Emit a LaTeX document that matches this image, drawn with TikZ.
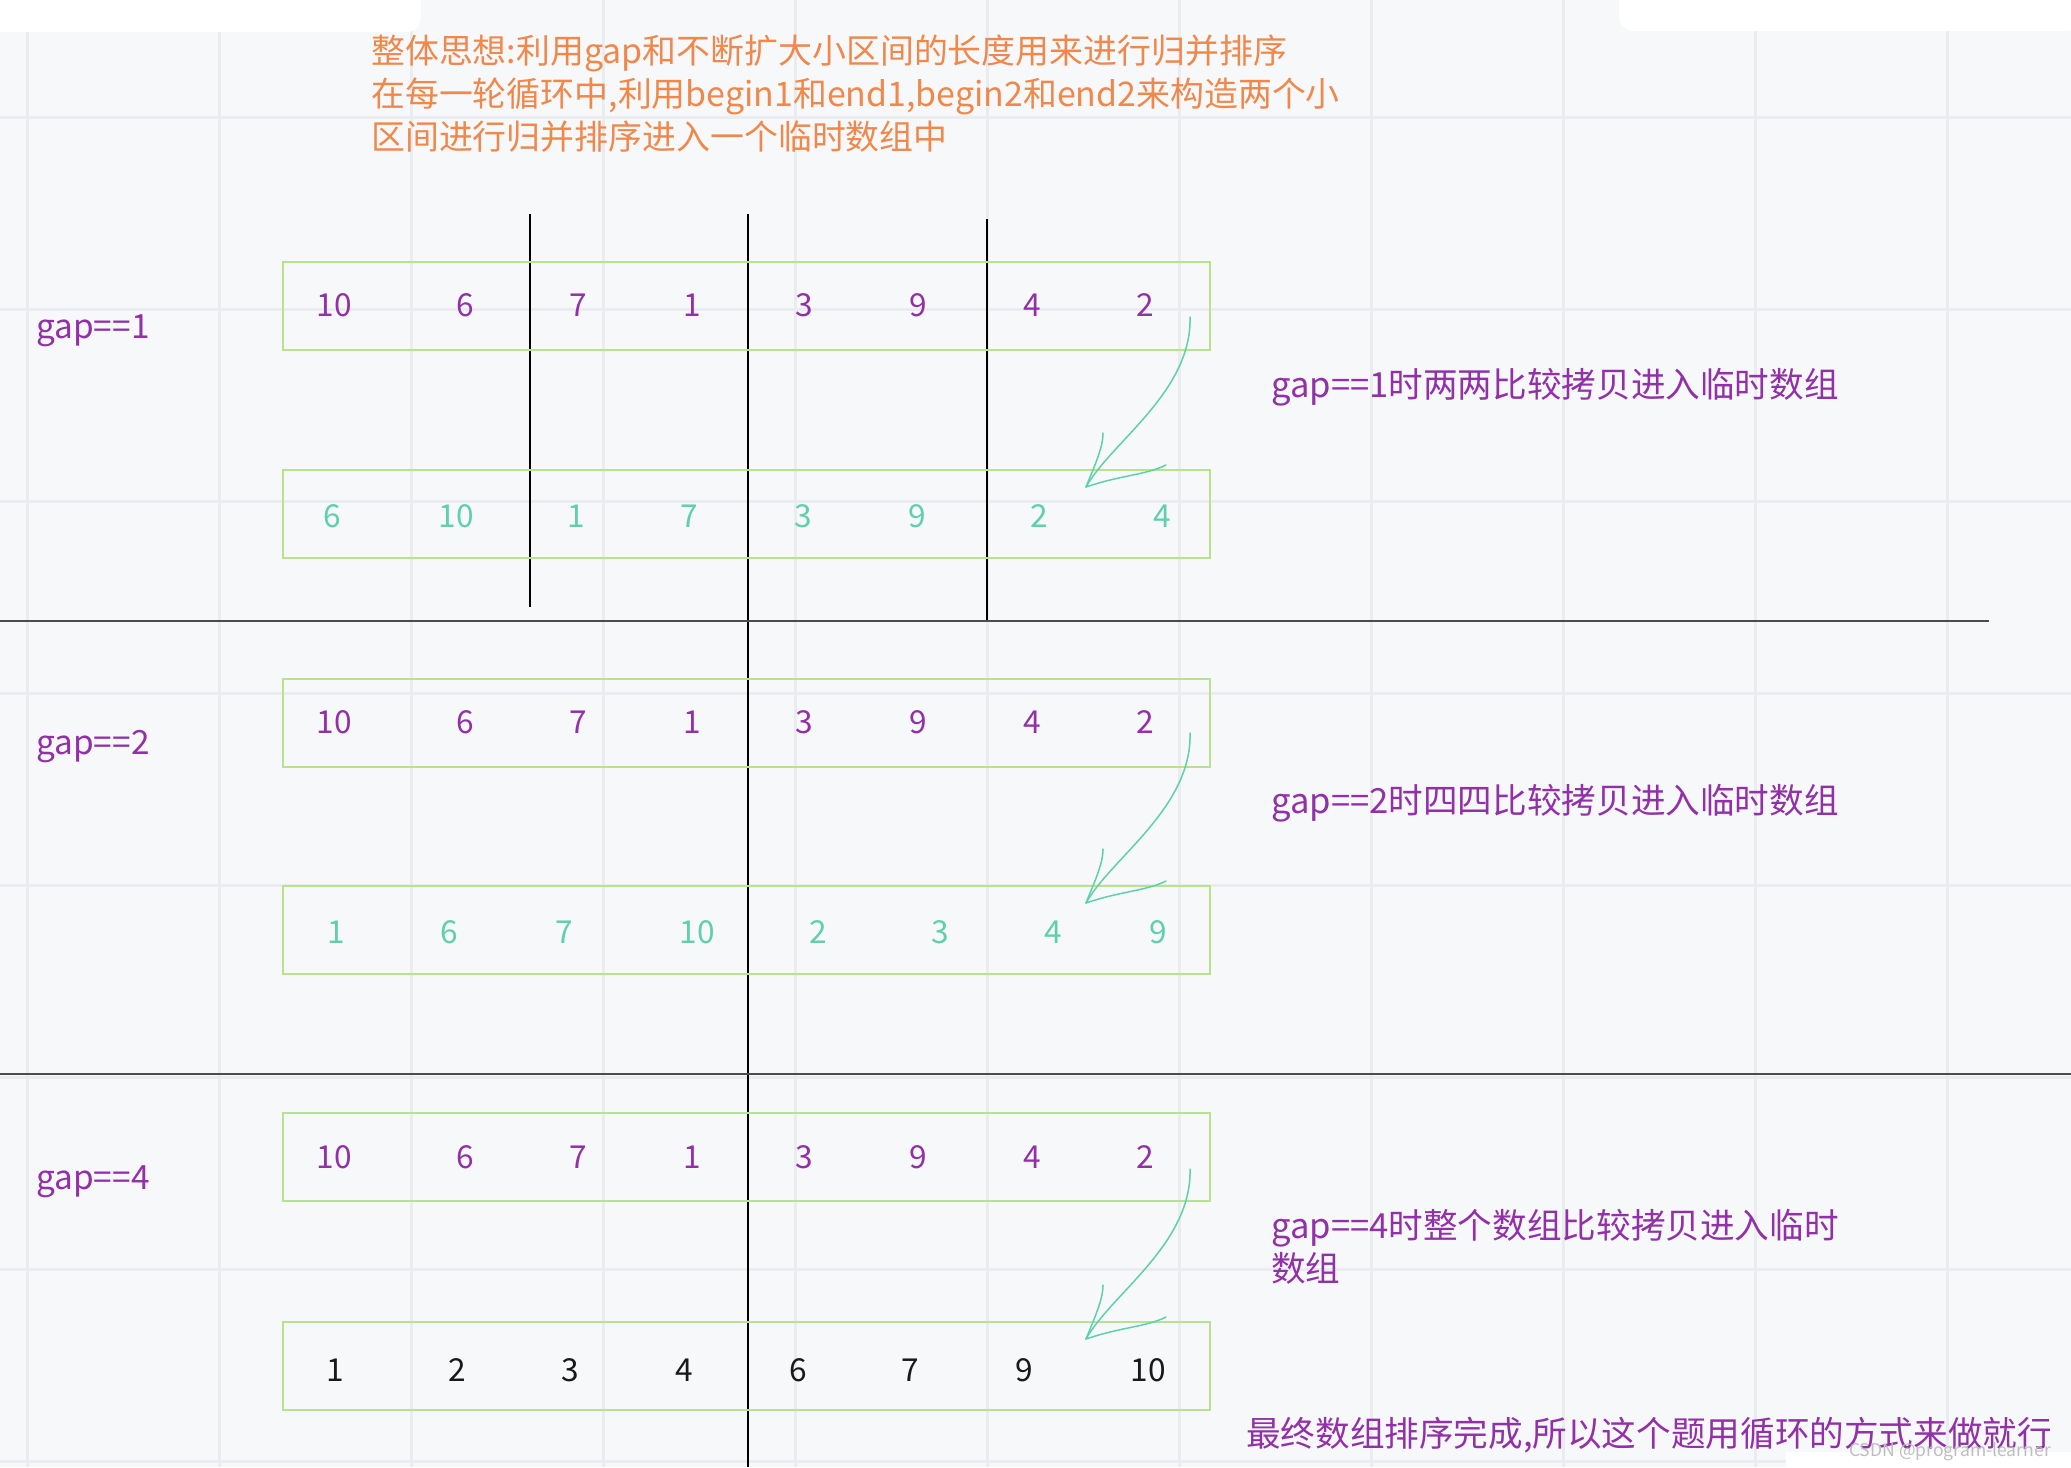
\documentclass[tikz,border=0pt]{standalone}
\usepackage{fontspec}
\newfontfamily\cjk{Noto Sans CJK SC}
\usepackage{tikz}
\definecolor{gapPurple}{RGB}{146,48,168}
\definecolor{gapTeal}{RGB}{96,208,170}
\definecolor{gapOrange}{RGB}{240,136,76}
\definecolor{boxGreen}{RGB}{184,226,144}
\definecolor{gridGray}{RGB}{234,236,239}
\definecolor{paper}{RGB}{247,248,250}
\tikzset{
	numbox/.style={draw=boxGreen, line width=0.04cm},
	num/.style={anchor=base, font=\cjk\fontsize{18}{20}\selectfont},
	note/.style={anchor=base west, font=\cjk\fontsize{19.7}{24}\selectfont},
	idea/.style={anchor=base west, text=gapOrange, font=\cjk\fontsize{19.3}{24}\selectfont},
	pen/.style={draw=gapTeal, line width=0.03cm, line cap=round},
}

\begin{document}
\begin{tikzpicture}[x=0.02cm, y=-0.02cm]
	\useasboundingbox (0,0) rectangle (2071,1467);
	% Draw background and grid
	\fill[paper] (0,0) rectangle (2071,1467);
	\foreach \gx in {27,219,...,1947} \draw[gridGray, line width=0.06cm] (\gx,0) -- (\gx,1467);
	\foreach \gy in {117,309,...,1461} \draw[gridGray, line width=0.06cm] (0,\gy) -- (2071,\gy);
	%White panels
	\fill[white, rounded corners=8] (-10,-10) rectangle (421,32);
	\fill[white, rounded corners=8] (1619,-10) rectangle (2081,31);
	\fill[white] (1786,1452) rectangle (2071,1467);

	% Idea text
	\node[idea] (idea1) at (365,63) {整体思想:利用gap和不断扩大小区间的长度用来进行归并排序};
	\node[idea] (idea2) at (365,106) {在每一轮循环中,利用begin1和end1,begin2和end2来构造两个小};
	\node[idea] (idea3) at (365,149) {区间进行归并排序进入一个临时数组中};

	% Split lines
	\draw[black, line width=0.03cm] (530,214) -- (530,607);
	\draw[black, line width=0.03cm] (748,214) -- (748,1467);
	\draw[black, line width=0.03cm] (987,219) -- (987,622);
	\draw[black!70, line width=0.05cm] (0,621) -- (1989,621);
	\draw[black!70, line width=0.05cm] (0,1074) -- (2071,1074);

	% Boxes
	\foreach \by in {262,470,679,886,1113,1322} \draw[numbox] (283,\by) rectangle +(927,88);

	% Numbers
	%Before merge
	\foreach \y/\r in {316/1,733/2,1168/3}
		\foreach \x/\n [count=\i] in {334/10,465/6,578/7,692/1,804/3,918/9,1032/4,1145/2}
			\node[num, text=gapPurple] (top\r-\i) at (\x,\y) {\n};
	%After merge
	\foreach \x/\n [count=\i] in {332/6,456/10,576/1,689/7,803/3,917/9,1039/2,1162/4}
		\node[num, text=gapTeal] (low1-\i) at (\x,527) {\n};
	\foreach \x/\n [count=\i] in {336/1,449/6,564/7,697/10,818/2,940/3,1053/4,1158/9}
		\node[num, text=gapTeal] (low2-\i) at (\x,943) {\n};
	\foreach \x/\n [count=\i] in {335/1,457/2,570/3,684/4,798/6,910/7,1024/9,1148/10}
		\node[num, text=black!90] (low3-\i) at (\x,1381) {\n};

	% Gap labels
	\node[num, anchor=base west, text=gapPurple, font=\cjk\fontsize{19}{20}\selectfont] (gap1) at (30,338) {gap==1};
	\node[num, anchor=base west, text=gapPurple, font=\cjk\fontsize{19}{20}\selectfont] (gap2) at (30,754) {gap==2};
	\node[num, anchor=base west, text=gapPurple, font=\cjk\fontsize{19}{20}\selectfont] (gap4) at (30,1189) {gap==4};

	% Hand drawn arrows
	\foreach \dy/\r in {0/1,416/2,852/3} {
		\coordinate (from\r) at (1190,317+\dy);
		\coordinate (tip\r) at (1086,487+\dy);
		\coordinate (barbL\r) at (1103,433+\dy);
		\coordinate (barbR\r) at (1166,465+\dy);
		\draw[pen] (from\r) .. controls +(2,75) and +(25,-45) .. (tip\r);
		\draw[pen] (tip\r) .. controls +(8,-20) and +(0,15) .. (barbL\r);
		\draw[pen] (tip\r) .. controls +(35,-12) and +(-20,10) .. (barbR\r);
	}

	% Notes
	\node[note, text=gapPurple] (say1) at (1265,397) {gap==1时两两比较拷贝进入临时数组};
	\node[note, text=gapPurple] (say2) at (1265,813) {gap==2时四四比较拷贝进入临时数组};
	\node[note, text=gapPurple] (say4) at (1265,1238) {gap==4时整个数组比较拷贝进入临时};
	\node[note, text=gapPurple] (say4b) at (1265,1281) {数组};
	\node[note, text=gapPurple] (done) at (1240,1446) {最终数组排序完成,所以这个题用循环的方式来做就行};
	\node[font=\cjk\fontsize{10}{12}\selectfont, text=black!25] (mark) at (1950,1452) {CSDN @program-learner};

\end{tikzpicture}
\end{document}
